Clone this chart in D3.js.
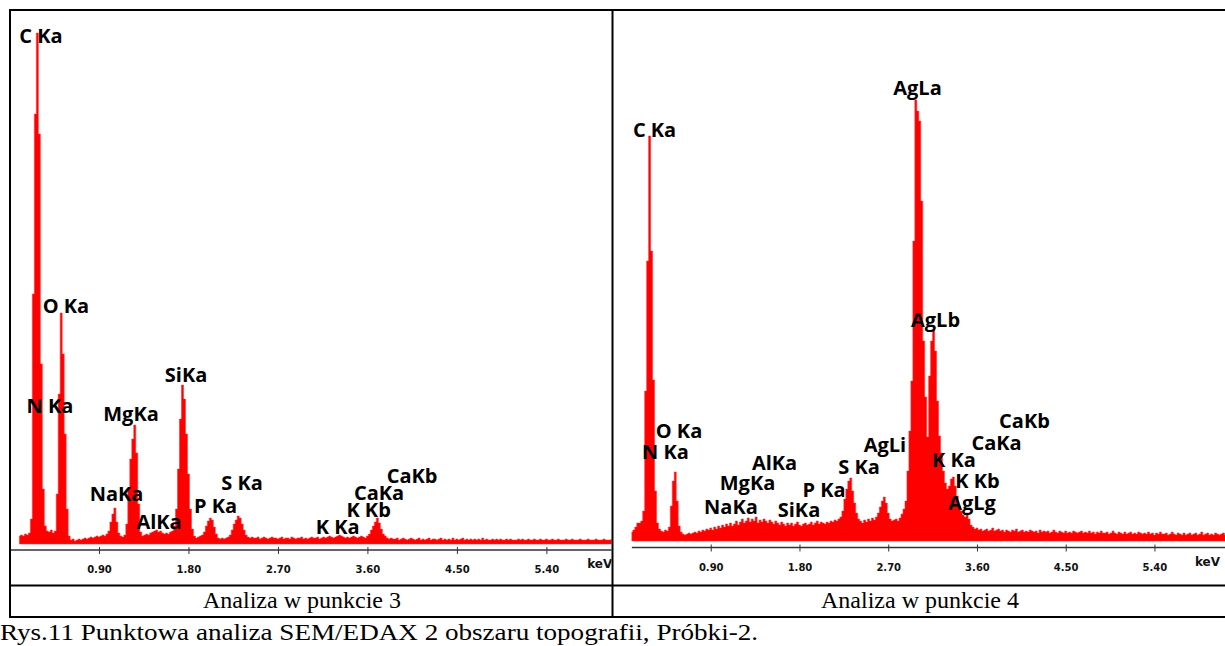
<!DOCTYPE html>
<html>
<head>
<meta charset="utf-8">
<script src="https://cdnjs.cloudflare.com/ajax/libs/d3/7.8.5/d3.min.js"></script>
<style>
  body { margin: 0; background: #fff; }
  svg { display: block; }
  .peak-label { font-family: "Open Sans", sans-serif; font-weight: 700; font-size: 20px; fill: #000; }
  .tick text { font-family: "DejaVu Sans", sans-serif; font-weight: 700; font-size: 10px; fill: #111; }
  .kev { font-family: "DejaVu Sans", sans-serif; font-weight: 700; font-size: 12px; fill: #111; }
  .caption { font-family: "Liberation Serif", "Times New Roman", serif; fill: #000; }
</style>
</head>
<body>
<div id="chart"></div>
<script>
var svgWidth = 1225;
var svgHeight = 646;

// spectrum channels: first channel energy and channel width (keV)
var startKeV = 0.10;
var stepKeV = 0.02;
var tickValues = [0.90, 1.80, 2.70, 3.60, 4.50, 5.40];

// Analiza w punkcie 3 (counts per channel, 0.10 .. 6.08 keV)
var countsPoint3 = [
  8, 9, 8, 10, 9, 11, 25, 250, 430, 511,
  410, 180, 55, 18, 13, 12, 14, 11, 13, 50,
  150, 231, 190, 110, 35, 8, 4, 5, 3, 4,
  5, 4, 5, 6, 5, 6, 7, 6, 7, 8,
  7, 8, 9, 8, 10, 13, 22, 30, 36, 22,
  11, 8, 7, 9, 20, 55, 85, 105, 119, 91,
  40, 12, 8, 9, 10, 9, 11, 12, 13, 14,
  12, 13, 11, 10, 11, 10, 12, 13, 18, 35,
  75, 125, 159, 145, 110, 70, 35, 15, 8, 6,
  7, 8, 9, 12, 18, 23, 26, 24, 17, 10,
  6, 5, 6, 5, 6, 7, 9, 14, 20, 24,
  28, 26, 20, 14, 9, 7, 6, 7, 6, 6,
  7, 5, 6, 7, 6, 5, 6, 7, 6, 6,
  5, 6, 7, 5, 6, 6, 5, 7, 6, 5,
  6, 6, 7, 5, 6, 5, 6, 7, 6, 6,
  7, 5, 6, 7, 6, 7, 8, 7, 6, 7,
  8, 9, 8, 7, 6, 7, 6, 7, 8, 7,
  6, 7, 8, 7, 6, 8, 10, 14, 18, 22,
  26, 21, 15, 10, 8, 6, 5, 6, 5, 5,
  6, 4, 5, 6, 5, 4, 5, 6, 5, 4,
  5, 6, 4, 5, 4, 5, 6, 4, 5, 5,
  4, 5, 6, 4, 5, 4, 5, 4, 6, 4,
  5, 4, 5, 6, 4, 5, 4, 5, 4, 5,
  4, 5, 4, 6, 4, 5, 4, 4, 5, 4,
  5, 4, 5, 4, 4, 5, 4, 5, 4, 4,
  4, 5, 4, 5, 4, 4, 5, 4, 4, 5,
  4, 4, 5, 4, 4, 5, 4, 4, 5, 4,
  4, 5, 4, 4, 4, 5, 4, 4, 5, 4,
  4, 4, 5, 4, 4, 4, 5, 4, 4, 4,
  5, 4, 4, 4, 5, 4, 4, 4, 5, 4
];

// Analiza w punkcie 4 (counts per channel, 0.10 .. 6.28 keV)
var countsPoint4 = [
  9, 11, 14, 18, 18, 20, 30, 150, 280, 405,
  290, 161, 50, 18, 12, 10, 9, 11, 10, 14,
  35, 60, 69, 40, 15, 9, 7, 6, 7, 8,
  7, 8, 9, 8, 10, 9, 11, 10, 12, 11,
  13, 11, 14, 12, 15, 13, 16, 14, 17, 15,
  18, 15, 17, 20, 16, 19, 22, 18, 20, 23,
  19, 22, 20, 24, 18, 21, 19, 22, 20, 18,
  21, 19, 17, 20, 18, 16, 19, 17, 15, 18,
  16, 18, 15, 17, 19, 16, 15, 17, 18, 16,
  17, 19, 16, 18, 20, 17, 19, 18, 17, 19,
  18, 20, 19, 21, 20, 22, 24, 30, 42, 52,
  60, 63, 50, 38, 28, 22, 20, 18, 21, 19,
  22, 20, 23, 21, 24, 28, 34, 40, 44, 38,
  28, 22, 20, 21, 22, 20, 23, 27, 32, 40,
  70, 110, 160, 300, 441, 430, 420, 340, 200, 144,
  104, 165, 200, 211, 190, 140, 105, 88, 70, 58,
  52, 55, 62, 64, 55, 45, 35, 30, 26, 24,
  28, 22, 16, 14, 12, 13, 11, 12, 10, 11,
  12, 10, 11, 13, 10, 11, 12, 10, 11, 9,
  11, 10, 9, 11, 10, 12, 9, 10, 11, 9,
  10, 9, 11, 10, 9, 10, 8, 11, 9, 10,
  9, 10, 8, 9, 11, 9, 8, 10, 9, 8,
  10, 8, 9, 8, 10, 9, 8, 9, 10, 8,
  9, 8, 10, 8, 9, 7, 9, 8, 10, 8,
  8, 9, 7, 8, 10, 8, 7, 9, 8, 7,
  9, 7, 8, 9, 7, 8, 7, 9, 8, 7,
  8, 7, 9, 7, 8, 6, 8, 7, 9, 7,
  7, 8, 6, 7, 9, 7, 6, 8, 7, 6,
  8, 6, 7, 8, 6, 7, 8, 6, 7, 9,
  6, 7, 8, 6, 7, 6, 8, 7, 6, 7,
  8, 6, 7, 6, 7, 8, 6, 7, 6, 7
];

// peak labels: text, centre energy (keV), baseline height (counts)
var labelsPoint3 = ["C Ka", "O Ka", "N Ka", "MgKa", "SiKa", "NaKa", "AlKa", "P Ka", "S Ka", "K Ka", "K Kb", "CaKa", "CaKb"];
var labelKeVPoint3 = [0.317, 0.568, 0.407, 1.222, 1.776, 1.076, 1.504, 2.072, 2.339, 3.300, 3.612, 3.717, 4.049];
var labelCountsPoint3 = [501, 231, 131, 123, 162, 43, 15, 31, 54, 10, 27, 44, 61];

var labelsPoint4 = ["C Ka", "AgLa", "AgLb", "O Ka", "N Ka", "AgLi", "AlKa", "S Ka", "MgKa", "P Ka", "NaKa", "SiKa", "CaKb", "CaKa", "K Ka", "K Kb", "AgLg"];
var labelKeVPoint4 = [0.330, 2.997, 3.180, 0.578, 0.441, 2.667, 1.547, 2.404, 1.273, 2.049, 1.105, 1.795, 4.082, 3.798, 3.367, 3.605, 3.550];
var labelCountsPoint4 = [404, 446, 214, 103, 82, 89, 71, 67, 51, 44, 27, 24, 113, 91, 74, 53, 31];

var panelTitles = ["Analiza w punkcie 3", "Analiza w punkcie 4"];
var figureCaption = "Rys.11 Punktowa analiza SEM/EDAX 2 obszaru topografii, Próbki-2.";

// -----------------------------------------------------------------------------

var svg = d3.select("#chart")
  .append("svg")
  .attr("width", svgWidth)
  .attr("height", svgHeight);

svg.append("rect")
  .attr("width", svgWidth)
  .attr("height", svgHeight)
  .attr("fill", "#fff");

var panels = [
  {
    id: "p3", counts: countsPoint3, labels: labelsPoint3, labelKeV: labelKeVPoint3, labelCounts: labelCountsPoint3,
    xDomain: [0, 6.06], xRange: [9.5, 612], yDomain: [0, 520], yRange: [544, 24],
    axisY: 550, axisFrom: 0.005, clip: [11, 11, 600.5, 574], title: panelTitles[0], titleX: 302
  },
  {
    id: "p4", counts: countsPoint4, labels: labelsPoint4, labelKeV: labelKeVPoint4, labelCounts: labelCountsPoint4,
    xDomain: [0, 6.15], xRange: [622, 1228.4], yDomain: [0, 460], yRange: [541, 81],
    axisY: 547.5, axisFrom: 0.10, clip: [613.5, 11, 612, 574], title: panelTitles[1], titleX: 920
  }
];

var defs = svg.append("defs");

panels.forEach(function(p) {
  var x = d3.scaleLinear().domain(p.xDomain).range(p.xRange);
  var y = d3.scaleLinear().domain(p.yDomain).range(p.yRange);

  defs.append("clipPath")
    .attr("id", "clip-" + p.id)
    .append("rect")
    .attr("x", p.clip[0]).attr("y", p.clip[1])
    .attr("width", p.clip[2]).attr("height", p.clip[3]);

  var g = svg.append("g").attr("clip-path", "url(#clip-" + p.id + ")");

  // spectrum
  var area = d3.area()
    .x((d, i) => x(startKeV + i * stepKeV))
    .y0(y(0))
    .y1(d => y(d))
    .curve(d3.curveStep);

  g.append("path")
    .datum(p.counts)
    .attr("d", area)
    .attr("fill", "#ff0000")
    .attr("stroke", "#ff3030")
    .attr("stroke-width", 0.6);

  // x axis
  var axis = d3.axisBottom(x)
    .tickValues(tickValues)
    .tickFormat(d3.format(".2f"))
    .tickSizeOuter(0)
    .tickSizeInner(7)
    .tickPadding(9);

  var ax = g.append("g")
    .attr("transform", `translate(0, ${p.axisY})`)
    .call(axis);
  ax.select(".domain").remove();
  ax.selectAll(".tick line")
    .attr("y1", -3)
    .attr("y2", 4)
    .attr("stroke", "#333");
  ax.append("line")
    .attr("x1", x(p.axisFrom))
    .attr("x2", x(p.xDomain[1]))
    .attr("stroke", "#333")
    .attr("stroke-width", 1.3);

  g.append("text")
    .attr("class", "kev")
    .attr("x", x(5.81))
    .attr("y", p.axisY + 18)
    .text("keV");

  // peak labels
  g.selectAll(".peak-label")
    .data(p.labels)
    .enter()
    .append("text")
    .attr("class", "peak-label")
    .attr("text-anchor", "middle")
    .attr("x", (d, i) => x(p.labelKeV[i]))
    .attr("y", (d, i) => y(p.labelCounts[i]))
    .text(d => d);

  svg.append("text")
    .attr("class", "caption")
    .attr("text-anchor", "middle")
    .attr("x", p.titleX)
    .attr("y", 608)
    .style("font-size", "24px")
    .text(p.title);
});

// table borders
var borders = [
  [9, 10, 1225, 10],
  [10, 9, 10, 618],
  [612.5, 9, 612.5, 618],
  [9, 585.5, 1225, 585.5],
  [9, 617, 1225, 617]
];
svg.selectAll(".border")
  .data(borders)
  .enter()
  .append("line")
  .attr("class", "border")
  .attr("x1", d => d[0]).attr("y1", d => d[1])
  .attr("x2", d => d[2]).attr("y2", d => d[3])
  .attr("stroke", "#000")
  .attr("stroke-width", 2);

svg.append("text")
  .attr("class", "caption")
  .attr("x", 0)
  .attr("y", 640)
  .attr("textLength", 758)
  .attr("lengthAdjust", "spacingAndGlyphs")
  .style("font-size", "24px")
  .text(figureCaption);
</script>
</body>
</html>
